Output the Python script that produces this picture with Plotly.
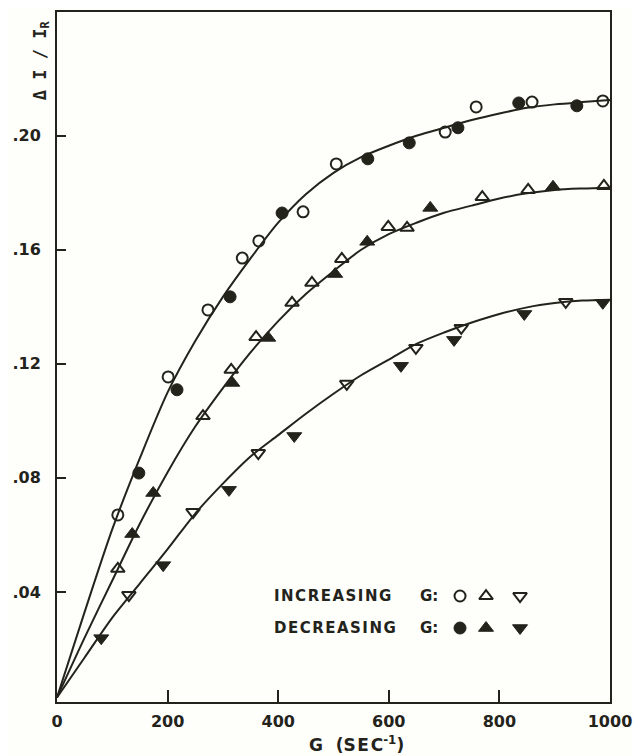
import plotly.graph_objects as go

# ---- data ----
curve_x = [0, 50, 100, 150, 200, 250, 300, 350, 400, 450, 500, 550, 600, 650, 700, 750, 800, 850, 900, 950, 1000]
curve_top = [0.003, 0.033, 0.062, 0.087, 0.110, 0.128, 0.1435, 0.157, 0.1695, 0.1795, 0.187, 0.1925, 0.1965, 0.2, 0.2028, 0.2055, 0.2078, 0.2098, 0.2110, 0.2118, 0.2125]
curve_mid = [0.003, 0.024, 0.044, 0.064, 0.082, 0.098, 0.1115, 0.124, 0.135, 0.1445, 0.1525, 0.160, 0.1655, 0.1695, 0.173, 0.1755, 0.178, 0.1798, 0.181, 0.1815, 0.1818]
curve_bot = [0.003, 0.017, 0.031, 0.043, 0.055, 0.0675, 0.078, 0.0875, 0.095, 0.1025, 0.1095, 0.116, 0.1215, 0.127, 0.131, 0.1345, 0.1375, 0.1398, 0.1413, 0.1422, 0.1425]

inc_circle_x = [110, 201, 273, 335, 365, 445, 505, 702, 758, 859, 987]
inc_circle_y = [0.067, 0.1154, 0.1389, 0.1571, 0.1631, 0.1733, 0.1901, 0.2013, 0.2101, 0.2118, 0.2122]
dec_circle_x = [148, 217, 313, 407, 562, 637, 725, 835, 940]
dec_circle_y = [0.0817, 0.1109, 0.1435, 0.1729, 0.1919, 0.1975, 0.2028, 0.2115, 0.2105]

inc_up_x = [110, 264, 315, 360, 425, 461, 515, 599, 633, 769, 852, 989]
inc_up_y = [0.0481, 0.1017, 0.1179, 0.1294, 0.1414, 0.1484, 0.1568, 0.1680, 0.1677, 0.1785, 0.1810, 0.1824]
dec_up_x = [136, 174, 317, 382, 503, 561, 675, 897]
dec_up_y = [0.0603, 0.0747, 0.1133, 0.1291, 0.1515, 0.1628, 0.1747, 0.1821]

inc_down_x = [130, 246, 364, 524, 649, 731, 920]
inc_down_y = [0.0389, 0.0680, 0.0887, 0.1130, 0.1256, 0.1326, 0.1417]
dec_down_x = [80, 192, 311, 429, 622, 718, 845, 987]
dec_down_y = [0.0238, 0.0494, 0.0758, 0.0947, 0.1193, 0.1284, 0.1375, 0.1414]

x_ticks = [0, 200, 400, 600, 800, 1000]
x_tick_labels = ["0", "200", "400", "600", "800", "1000"]
y_ticks = [0.04, 0.08, 0.12, 0.16, 0.20]
y_tick_labels = [".04", ".08", ".12", ".16", ".20"]

INK = "#23231c"
FONT = "DejaVu Sans"

fig = go.Figure()

for cy in (curve_top, curve_mid, curve_bot):
    fig.add_trace(go.Scatter(x=curve_x, y=cy, mode="lines",
                             line=dict(color=INK, width=2, shape="spline", smoothing=0.8),
                             hoverinfo="skip", showlegend=False))

def pts(x, y, symbol, size, filled):
    if filled:
        m = dict(symbol=symbol, size=size, color=INK, line=dict(color=INK, width=1))
    else:
        m = dict(symbol=symbol + "-open", size=size, color=INK, line=dict(color=INK, width=2))
    return go.Scatter(x=x, y=y, mode="markers", marker=m, showlegend=False)

fig.add_trace(pts(inc_circle_x, inc_circle_y, "circle", 11, False))
fig.add_trace(pts(dec_circle_x, dec_circle_y, "circle", 12, True))
fig.add_trace(pts(inc_up_x, inc_up_y, "triangle-up", 12, False))
fig.add_trace(pts(dec_up_x, dec_up_y, "triangle-up", 13, True))
fig.add_trace(pts(inc_down_x, inc_down_y, "triangle-down", 12, False))
fig.add_trace(pts(dec_down_x, dec_down_y, "triangle-down", 13, True))

# legend key markers on an overlay axis in [0,1]
key_x = [0.7288, 0.7758, 0.8373]
key_row_inc = 0.1536
key_row_dec = 0.1072
for sym, kx, open_size, fill_size in (("circle", key_x[0], 11, 12), ("triangle-up", key_x[1], 12, 13), ("triangle-down", key_x[2], 12, 13)):
    s_open = go.Scatter(x=[kx], y=[key_row_inc], mode="markers", xaxis="x2", yaxis="y2",
                        marker=dict(symbol=sym + "-open", size=open_size, color=INK, line=dict(color=INK, width=2)),
                        showlegend=False)
    s_fill = go.Scatter(x=[kx], y=[key_row_dec], mode="markers", xaxis="x2", yaxis="y2",
                        marker=dict(symbol=sym, size=fill_size, color=INK, line=dict(color=INK, width=1)),
                        showlegend=False)
    fig.add_trace(s_open)
    fig.add_trace(s_fill)

hs = "\u200a"
def spaced(t):
    return hs.join(list(t))

annotations = [
    dict(text=spaced("INCREASING"), x=0.3888, y=key_row_inc, xanchor="left", yanchor="middle"),
    dict(text="G:", x=0.6528, y=key_row_inc, xanchor="left", yanchor="middle"),
    dict(text=spaced("DECREASING"), x=0.3888, y=key_row_dec, xanchor="left", yanchor="middle"),
    dict(text="G:", x=0.6528, y=key_row_dec, xanchor="left", yanchor="middle"),
]
for a in annotations:
    a.update(xref="paper", yref="paper", showarrow=False,
             font=dict(family=FONT, size=15, color=INK, weight="bold"))
    fig.add_annotation(**a)

# axis titles
fig.add_annotation(text="G\u2009\u2009 (" + spaced("SEC") + "<sup>-1</sup>)", xref="paper", yref="paper",
                   x=0.541, y=-0.061, xanchor="center", yanchor="middle", showarrow=False,
                   font=dict(family=FONT, size=17, color=INK, weight="bold"))
fig.add_annotation(text="\u0394 I / I<sub>R</sub>", xref="paper", yref="paper",
                   x=-0.029, y=0.93, xanchor="center", yanchor="middle", showarrow=False,
                   textangle=-90,
                   font=dict(family="DejaVu Sans Mono", size=17, color=INK, weight="bold"))

axis_common = dict(showgrid=False, zeroline=False, showline=True, linecolor=INK, linewidth=2,
                   mirror=True, ticks="inside", tickcolor=INK, tickwidth=2, automargin=False,
                   tickfont=dict(family=FONT, size=16, color=INK, weight="bold"))

# the page body adds an 8px offset, so the figure is 8px smaller and the
# left/top margins 8px narrower to keep the plot box where the reference has it
fig.update_layout(
    width=633, height=748,
    margin=dict(l=49, r=31, t=4, b=54, autoexpand=False),
    paper_bgcolor="#fefefa", plot_bgcolor="#fefefa",
    showlegend=False,
    xaxis=dict(range=[0, 1000], tickvals=x_ticks, ticktext=x_tick_labels, ticklen=12,
               ticklabelstandoff=4, **axis_common),
    yaxis=dict(range=[0.0014, 0.2434], tickvals=y_ticks, ticktext=y_tick_labels, ticklen=9,
               ticklabelstandoff=11, **axis_common),
    xaxis2=dict(overlaying="x", range=[0, 1], visible=False),
    yaxis2=dict(overlaying="y", range=[0, 1], visible=False),
)

fig.write_html("out.html")
